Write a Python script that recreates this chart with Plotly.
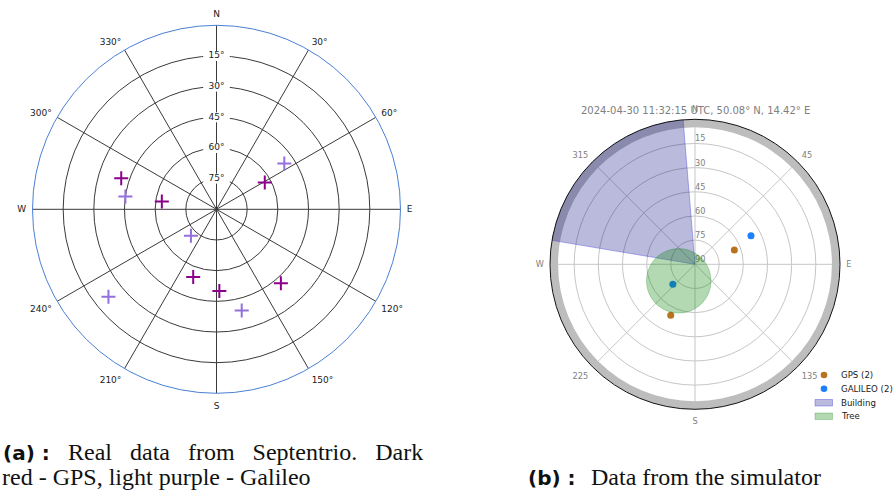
import math
import plotly.graph_objects as go

W, H = 894, 495

# ---- Septentrio receiver sky view (azimuth deg, elevation deg) ----
gps_az = [288, 278, 61, 199, 178, 139]
gps_el = [41, 63, 63, 55, 50, 42]
gal_az = [56, 278, 224, 231, 166]
gal_el = [50, 45, 72, 22, 39]

left_dir_vals = [0, 30, 60, 90, 120, 150, 180, 210, 240, 270, 300, 330]
left_dir_text = ["N", "30°", "60°", "E", "120°", "150°", "S", "210°", "240°", "W", "300°", "330°"]
left_ring_el = [15, 30, 45, 60, 75]
left_ring_text = ["15°", "30°", "45°", "60°", "75°"]

# ---- Simulator sky view ----
sim_gps_az = [70, 205.5]
sim_gps_el = [64, 55]
sim_gal_az = [63, 228]
sim_gal_el = [51, 71.5]

building_az_start = 279.5
building_az_end = 355.3
mask_el = 5
tree_az = 224.5
tree_el = 75.6
tree_radius = 20

right_dir_vals = [0, 45, 90, 135, 180, 225, 270, 315]
right_dir_text = ["N", "45", "E", "135", "S", "225", "W", "315"]
right_ring_el = [15, 30, 45, 60, 75, 90]
right_ring_text = ["15", "30", "45", "60", "75", "90"]

title_text = "2024-04-30 11:32:15 UTC, 50.08° N, 14.42° E"


def zen(el_list):
    return [90 - e for e in el_list]


def px(x):
    return x / W


def py(y):
    return 1 - y / H


# Tree canopy outline: circle on the sky plane, converted back to polar
tc_r = 90 - tree_el
tcx = tc_r * math.sin(math.radians(tree_az))
tcy = tc_r * math.cos(math.radians(tree_az))
tree_r, tree_t = [], []
for k in range(121):
    a = 2 * math.pi * k / 120
    x = tcx + tree_radius * math.sin(a)
    y = tcy + tree_radius * math.cos(a)
    tree_r.append(math.hypot(x, y))
    tree_t.append(math.degrees(math.atan2(x, y)) % 360)

fig = go.Figure()

# ---------------- left polar ----------------
fig.add_trace(go.Scatterpolar(
    r=zen(left_ring_el), theta=[0] * len(left_ring_el), mode="markers+text",
    text=left_ring_text, textposition="middle center",
    textfont=dict(family="DejaVu Sans", size=9, color="#222"),
    marker=dict(symbol="line-ew", size=19, line=dict(color="white", width=10)),
    hoverinfo="skip", showlegend=False, subplot="polar"))
fig.add_trace(go.Scatterpolar(
    r=zen(gps_el), theta=gps_az, mode="markers", name="GPS",
    marker=dict(symbol="cross-thin", size=10, line=dict(color="#8b008b", width=2)),
    showlegend=False, subplot="polar"))
fig.add_trace(go.Scatterpolar(
    r=zen(gal_el), theta=gal_az, mode="markers", name="Galileo",
    marker=dict(symbol="cross-thin", size=10, line=dict(color="#9370db", width=2)),
    showlegend=False, subplot="polar"))

# ---------------- right polar ----------------
fig.add_trace(go.Barpolar(
    r=[mask_el], base=[90 - mask_el], theta=[180], width=[360],
    marker=dict(color="#bdbdbd", line=dict(width=0)),
    hoverinfo="skip", showlegend=False, subplot="polar2"))
fig.add_trace(go.Barpolar(
    r=[90], base=[0], theta=[(building_az_start + building_az_end) / 2],
    width=[building_az_end - building_az_start], name="Building",
    marker=dict(color="rgba(0,0,128,0.27)", line=dict(color="rgba(40,40,220,0.35)", width=1)),
    showlegend=False, subplot="polar2"))
fig.add_trace(go.Scatterpolar(
    r=zen(right_ring_el), theta=[0] * len(right_ring_el), mode="text",
    text=right_ring_text, textposition="top right",
    textfont=dict(family="DejaVu Sans", size=8.2, color="#808080"),
    hoverinfo="skip", showlegend=False, subplot="polar2"))
fig.add_trace(go.Scatterpolar(
    r=zen(sim_gps_el), theta=sim_gps_az, mode="markers", name="GPS (2)",
    marker=dict(size=7, color="#b8731f"), showlegend=False, subplot="polar2"))
fig.add_trace(go.Scatterpolar(
    r=zen(sim_gal_el), theta=sim_gal_az, mode="markers", name="GALILEO (2)",
    marker=dict(size=7, color="#1a80ff"), showlegend=False, subplot="polar2"))
fig.add_trace(go.Scatterpolar(
    r=tree_r, theta=tree_t, mode="lines", fill="toself", name="Tree",
    fillcolor="rgba(0,128,0,0.3)", line=dict(color="rgba(0,128,0,0.25)", width=1),
    showlegend=False, subplot="polar2"))

fig.update_layout(
    width=W, height=H, margin=dict(l=0, r=0, t=0, b=0),
    paper_bgcolor="white", plot_bgcolor="white", showlegend=False,
    polar=dict(
        domain=dict(x=[px(32.5), px(400.5)], y=[py(393.3), py(25.3)]),
        bgcolor="white",
        angularaxis=dict(rotation=90, direction="clockwise", tickmode="array",
                         tickvals=left_dir_vals, ticktext=left_dir_text,
                         tickfont=dict(family="DejaVu Sans", size=9, color="#222"),
                         showline=True, linecolor="#4a7fd6", linewidth=1,
                         gridcolor="#3a3a3a", gridwidth=0.8,
                         ticks="outside", ticklen=4, tickcolor="rgba(0,0,0,0)"),
        radialaxis=dict(range=[0, 90], tickmode="array", tickvals=zen(left_ring_el),
                        showticklabels=False, showline=False, ticks="",
                        gridcolor="#3a3a3a", gridwidth=0.8),
    ),
    polar2=dict(
        domain=dict(x=[px(550), px(840)], y=[py(409.3), py(119.3)]),
        bgcolor="white",
        angularaxis=dict(rotation=90, direction="clockwise", tickmode="array",
                         tickvals=right_dir_vals, ticktext=right_dir_text,
                         tickfont=dict(family="DejaVu Sans", size=8.2, color="#808080"),
                         showline=True, linecolor="#111", linewidth=1,
                         gridcolor="#c6c6c6", gridwidth=0.8,
                         ticks="outside", ticklen=4, tickcolor="rgba(0,0,0,0)"),
        radialaxis=dict(range=[0, 90], tickmode="array", tickvals=zen(left_ring_el),
                        showticklabels=False, showline=False, ticks="",
                        gridcolor="#c6c6c6", gridwidth=0.8),
    ),
)

# title of the simulator view
fig.add_annotation(x=px(695), y=py(110.5), xref="paper", yref="paper", text=title_text,
                   showarrow=False, xanchor="center", yanchor="middle",
                   font=dict(family="DejaVu Sans", size=10, color="#808080"))

# legend of the simulator view
legend_rows = [("GPS (2)", 375.0), ("GALILEO (2)", 388.8), ("Building", 402.7), ("Tree", 416.3)]
for label, yy in legend_rows:
    fig.add_annotation(x=px(839), y=py(yy), xref="paper", yref="paper", text=label,
                       showarrow=False, xanchor="left", yanchor="middle",
                       font=dict(family="DejaVu Sans", size=8.6, color="#222"))
for (label, yy), col in zip(legend_rows[:2], ["#b8731f", "#1a80ff"]):
    fig.add_shape(type="circle", xref="paper", yref="paper", xsizemode="pixel", ysizemode="pixel",
                  xanchor=px(824), yanchor=py(yy), x0=-3.3, x1=3.3, y0=-3.3, y1=3.3,
                  fillcolor=col, line=dict(width=0))
fig.add_shape(type="rect", xref="paper", yref="paper", x0=px(815), x1=px(832.5),
              y0=py(406), y1=py(399.5), fillcolor="rgba(0,0,128,0.27)",
              line=dict(color="rgba(40,40,220,0.35)", width=1))
fig.add_shape(type="rect", xref="paper", yref="paper", x0=px(815), x1=px(832.5),
              y0=py(419.5), y1=py(413), fillcolor="rgba(0,128,0,0.3)",
              line=dict(color="rgba(0,128,0,0.25)", width=1))

# sub-figure captions
serif = "Liberation Serif"
bold_sans = dict(family="DejaVu Sans", size=20, color="#111", weight="bold")
serif_font = dict(family=serif, size=24, color="#111")
fig.add_annotation(x=px(1), y=py(453), xref="paper", yref="paper", text="(a) :",
                   showarrow=False, xanchor="left", yanchor="middle", font=bold_sans)
fig.add_annotation(x=px(66), y=py(452), xref="paper", yref="paper",
                   text="Real\u00a0\u00a0 data\u00a0\u00a0 from\u00a0\u00a0 Septentrio.\u00a0\u00a0 Dark",
                   showarrow=False, xanchor="left", yanchor="middle", font=serif_font)
fig.add_annotation(x=px(0), y=py(477), xref="paper", yref="paper",
                   text="red - GPS, light purple - Galileo",
                   showarrow=False, xanchor="left", yanchor="middle", font=serif_font)
fig.add_annotation(x=px(526), y=py(478), xref="paper", yref="paper", text="(b) :",
                   showarrow=False, xanchor="left", yanchor="middle", font=bold_sans)
fig.add_annotation(x=px(589), y=py(477), xref="paper", yref="paper",
                   text="Data from the simulator",
                   showarrow=False, xanchor="left", yanchor="middle", font=serif_font)

fig.write_html("out.html")
